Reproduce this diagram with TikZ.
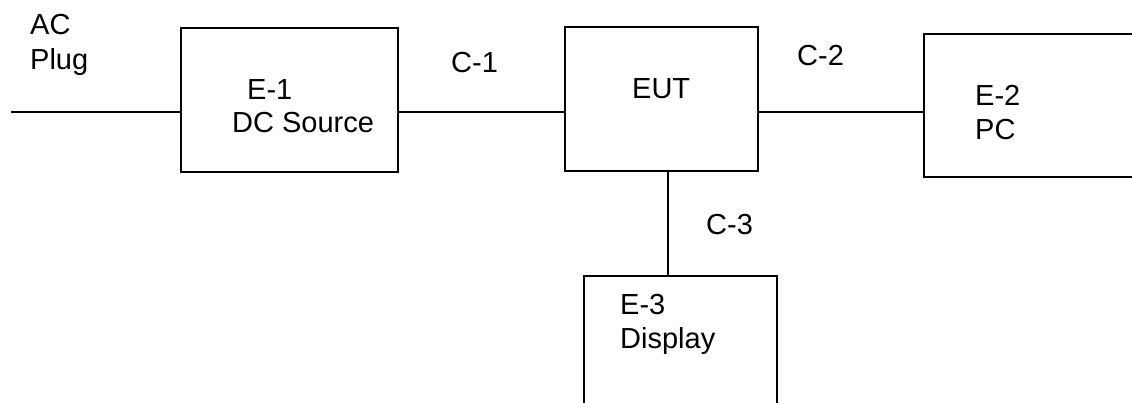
\documentclass[tikz,border=0pt]{standalone}
\usepackage{fontspec}
\setmainfont{Liberation Sans}
\begin{document}
\begin{tikzpicture}[x=1pt,y=-1pt,
  box/.style={draw=black,line width=1.9pt,inner sep=0pt,minimum width=#1},
  wire/.style={draw=black,line width=1.9pt},
  lbl/.style={anchor=base west,inner sep=0pt,font=\fontsize{29}{35}\selectfont}]
\useasboundingbox (0,0) rectangle (1132,403);
\clip (0,0) rectangle (1132,403);
\node[box=217pt,minimum height=144pt] (e1) at (289.5,100) {};
\node[box=193pt,minimum height=144pt] (eut) at (661.5,99) {};
\node[box=226pt,minimum height=143pt] (e2) at (1037,105.5) {};
\node[box=193pt,minimum height=144pt] (e3) at (680.5,348) {};
\coordinate (ac) at (11,112);
\coordinate (v) at (668,0);
\draw[wire] (ac) -- (ac -| e1.west);
\draw[wire] (e1.east |- ac) -- (ac -| eut.west);
\draw[wire] (eut.east |- ac) -- (ac -| e2.west);
\draw[wire] (v |- eut.south) -- (v |- e3.north);
\node[lbl] (tac) at (30,35) {AC};
\node[lbl] (tplug) at (30,70) {Plug};
\node[lbl] (te1) at (247,100) {E-1};
\node[lbl] (tdc) at (232,133) {DC Source};
\node[lbl] (tc1) at (451,73) {C-1};
\node[lbl] (teut) at (632,99) {EUT};
\node[lbl] (tc2) at (797,66) {C-2};
\node[lbl] (te2) at (975,106) {E-2};
\node[lbl] (tpc) at (975,140) {PC};
\node[lbl] (tc3) at (706,235) {C-3};
\node[lbl] (te3) at (620,314) {E-3};
\node[lbl] (tdisp) at (620,348) {Display};
\end{tikzpicture}
\end{document}
